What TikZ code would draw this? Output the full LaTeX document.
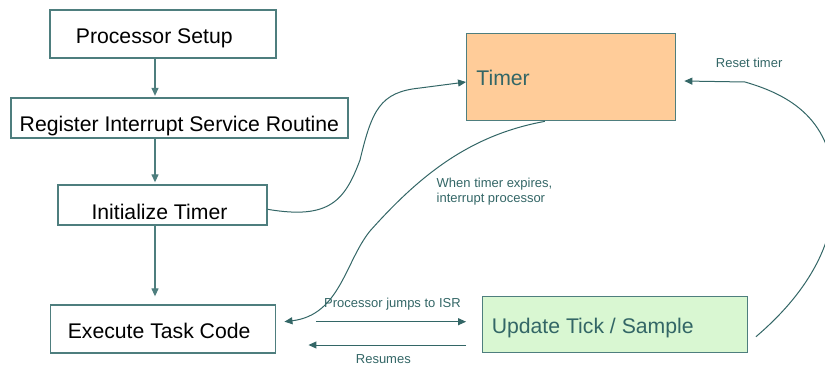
\documentclass[tikz,border=0pt]{standalone}
\usepackage{fontspec}
\setmainfont{Liberation Sans}
\usetikzlibrary{arrows.meta,calc}

\definecolor{flowteal}{HTML}{336666}
\definecolor{boxline}{HTML}{4E7E7E}
\definecolor{timerfill}{HTML}{FFCC99}
\definecolor{tickfill}{HTML}{D9F7D2}

\begin{document}
\begin{tikzpicture}[x=1pt,y=-1pt,
  box/.style={draw=boxline, line width=1.3pt, inner sep=0pt, rectangle},
  bigtext/.style={anchor=base west, inner sep=0pt, font=\fontsize{21.2}{25}\selectfont},
  smalltext/.style={anchor=base west, inner sep=0pt, text=flowteal,
                    font=\fontsize{13}{15}\selectfont, align=left},
  conn/.style={draw=flowteal, line width=1pt},
  vconn/.style={draw=boxline, line width=1.2pt},
  tip/.style={-{Triangle[length=8pt,width=7pt]}}]

\useasboundingbox (0,0) rectangle (825,367);
\clip (0,0) rectangle (825,367);

% left column of setup steps
\node[box, minimum width=226pt, minimum height=48pt] (ps)   at (163,34)    {};
\node[box, minimum width=337pt, minimum height=40pt] (risr) at (179.5,118) {};
\node[box, minimum width=209pt, minimum height=40pt] (it)   at (162.5,205) {};
\node[box, minimum width=225pt, minimum height=48pt] (etc)  at (163.3,329) {};

\node[bigtext] (psT)   at (75.7,43.3)  {Processor Setup};
\node[bigtext] (risrT) at (19.5,131)   {Register Interrupt Service Routine};
\node[bigtext] (itT)   at (91.3,219.3) {Initialize Timer};
\node[bigtext] (etcT)  at (67.6,338.7) {Execute Task Code};

% timer and interrupt service routine
\node[box, fill=timerfill, minimum width=209pt, minimum height=87.4pt] (timer) at (571.2,77) {};
\node[box, fill=tickfill,  minimum width=264.6pt, minimum height=56pt] (upd)   at (615,324.7) {};

\node[bigtext, text=flowteal] (timerT) at (476.2,85)    {Timer};
\node[bigtext, text=flowteal] (updT)   at (491.6,333.3) {Update Tick / Sample};

% vertical flow of the setup steps
\coordinate (colx) at (155,0);
\draw[vconn,tip] (ps.south -| colx)   -- ([yshift=1.5pt]risr.north -| colx);
\draw[vconn,tip] (risr.south -| colx) -- ([yshift=2pt]it.north -| colx);
\draw[vconn,tip,shorten >=8pt] (it.south -| colx) -- (etc.north -| colx);

% start the timer
\coordinate (itOut)   at ($(it.east)+(0,4.3)$);
\coordinate (timerIn) at ($(timer.west)+(0,5)$);
\draw[conn,tip] (itOut) .. controls (330,220) and (345,200) .. (360,160)
  .. controls (372,110) and (380,92) .. (420,88) -- (timerIn);

% timer expiry interrupts the processor
\coordinate (timerOut) at ($(timer.south west)!0.375!(timer.south east)$);
\coordinate (etcIn)    at ($(etc.east)+(8,-7.3)$);
\draw[conn,tip] (timerOut) .. controls (470,135) and (420,175) .. (370,231)
  .. controls (345,262) and (340,315) .. (etcIn);

% jump to the ISR and back
\coordinate (jmpS) at ($(etc.east)+(39.3,-7.3)$);
\coordinate (jmpE) at ($(upd.west)+(-16,-3)$);
\draw[conn,tip] (jmpS) -- (jmpE);
\coordinate (resS) at ($(upd.west)+(-16,20.3)$);
\coordinate (resE) at ($(etc.east)+(32,16)$);
\draw[conn,tip] (resS) -- (resE);

% reset the timer from the ISR
\coordinate (updOut)  at ($(upd.east)+(8,12)$);
\coordinate (timerRe) at ($(timer.east)+(8,4)$);
\draw[conn,tip] (updOut) .. controls (805,295) and (836,245) .. (834,190)
  .. controls (834,120) and (790,95) .. (745,82) -- (timerRe);

% connector labels (a two-line node sits on the baseline of its last line)
\node[smalltext] (lblReset)  at (715.7,67.3)  {Reset timer};
\node[smalltext] (lblExpire) at (436.5,202.7) {When timer expires,\\interrupt processor};
\node[smalltext] (lblJump)   at (324,307.3)   {Processor jumps to ISR};
\node[smalltext] (lblResume) at (355.7,363.3) {Resumes};
\end{tikzpicture}
\end{document}
